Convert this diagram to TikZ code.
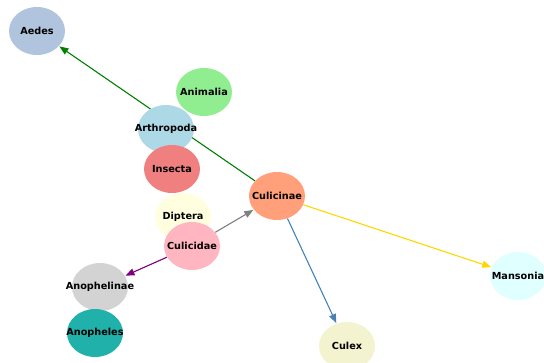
\documentclass[tikz,border=0pt]{standalone}
\usepackage{fontspec}
\setmainfont{DejaVu Sans}
\usetikzlibrary{shapes.geometric,arrows.meta,backgrounds}

\definecolor{cAedes}{HTML}{B0C4DE}
\definecolor{cAnimalia}{HTML}{90EE90}
\definecolor{cArthropoda}{HTML}{ADD8E6}
\definecolor{cInsecta}{HTML}{F08080}
\definecolor{cCulicinae}{HTML}{FFA07A}
\definecolor{cDiptera}{HTML}{FFFFE0}
\definecolor{cCulicidae}{HTML}{FFB6C1}
\definecolor{cAnophelinae}{HTML}{D3D3D3}
\definecolor{cAnopheles}{HTML}{20B2AA}
\definecolor{cMansonia}{HTML}{E0FFFF}
\definecolor{cCulex}{HTML}{F3F3D0}
\definecolor{eGreen}{HTML}{008000}
\definecolor{eGray}{HTML}{808080}
\definecolor{ePurple}{HTML}{800080}
\definecolor{eGold}{HTML}{FFD700}
\definecolor{eBlue}{HTML}{4682B4}

\tikzset{
  taxon/.style={ellipse, draw=none, minimum width=56pt, minimum height=48pt,
    inner sep=0pt, font=\fontsize{9.7}{11}\selectfont\bfseries},
  link/.style={line width=1.1pt, -{Triangle[length=9pt,width=7pt]}, shorten >=0.5pt}
}

\begin{document}
\begin{tikzpicture}[x=1pt, y=-1pt]
        \useasboundingbox (0,0) rectangle (544,362);
        \clip (0,0) rectangle (544,362);
        % taxa
        \foreach \n/\x/\y in {Aedes/37/31, Animalia/204/92, Arthropoda/166/129,
                Insecta/172/169, Diptera/183/217, Culicinae/277/196,
                Culicidae/192/246, Anophelinae/100/287, Anopheles/95/333,
                Mansonia/518/276, Culex/347/346} {
            \node[taxon, fill=c\n] (\n) at (\x,\y) {\makebox[0pt]{\n}};
        }
        % links
        \begin{pgfonlayer}{background}
            \foreach \a/\b/\c in {Culicinae/Aedes/eGreen, Culicidae/Culicinae/eGray,
                    Culicidae/Anophelinae/ePurple, Culicinae/Mansonia/eGold,
                    Culicinae/Culex/eBlue} {
                \draw[link, \c] (\a) -- (\b);
            }
        \end{pgfonlayer}
\end{tikzpicture}
\end{document}
